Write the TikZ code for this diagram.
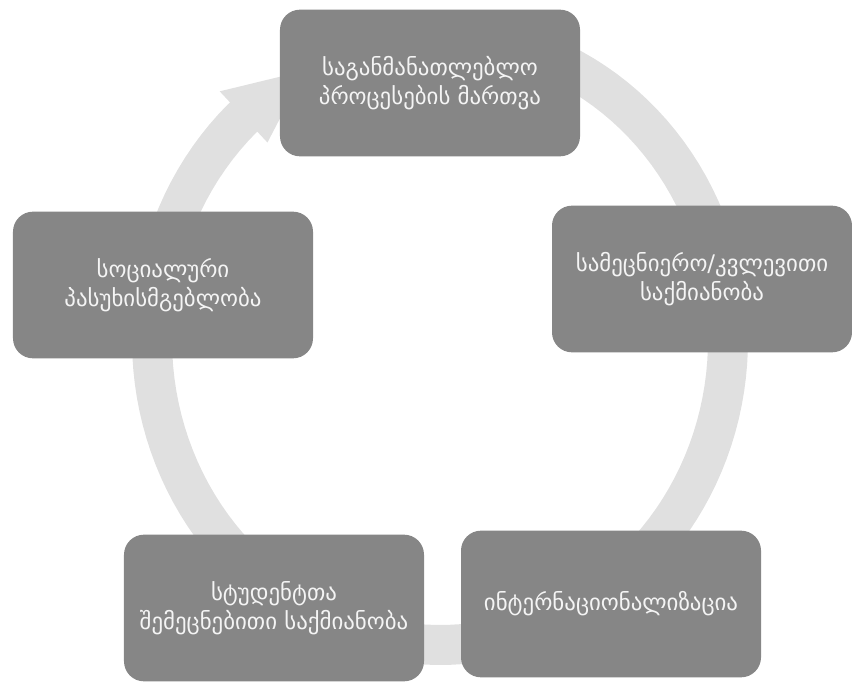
\documentclass[tikz,border=0pt]{standalone}
\usepackage{fontspec}
\setmainfont{DejaVu Sans}
\usepackage{tikz}
\definecolor{figBox}{RGB}{134,134,134}
\definecolor{figRing}{RGB}{224,224,224}
\definecolor{figTxt}{RGB}{244,244,244}
\tikzset{cycbox/.style={fill=figBox, rounded corners=0.6cm, minimum width=9cm,
  minimum height=4.4cm, align=center, text=figTxt, font=\fontsize{19.5}{25}\selectfont}}

\begin{document}
\begin{tikzpicture}[x=0.03cm, y=-0.03cm]
\useasboundingbox (0,0) rectangle (852,681);
% ---- ring: ellipse centre (440,340), radii 288/305, runs clockwise ----
\draw[figRing, line width=1.2cm] plot[domain=65:-229, samples=120]
  ({440+288*cos(\x)}, {340-305*sin(\x)});
% head: barbs at t=133, tip at t=118 (tip hidden under top box)
\fill[figRing] ({440+323*cos(133)},{340-340*sin(133)})
  -- ({440+288*cos(118)},{340-305*sin(118)})
  -- ({440+253*cos(133)},{340-270*sin(133)}) -- cycle;
% ---- the five boxes ----
\node[cycbox] (proc) at (430,83) {საგანმანათლებლო\\პროცესების მართვა};
\node[cycbox] (research) at (702,279) {სამეცნიერო/კვლევითი\\საქმიანობა};
\node[cycbox] (intl) at (611,604) {ინტერნაციონალიზაცია};
\node[cycbox] (stud) at (274,608) {სტუდენტთა\\შემეცნებითი საქმიანობა};
\node[cycbox] (social) at (163,285) {სოციალური\\პასუხისმგებლობა};
\end{tikzpicture}
\end{document}
